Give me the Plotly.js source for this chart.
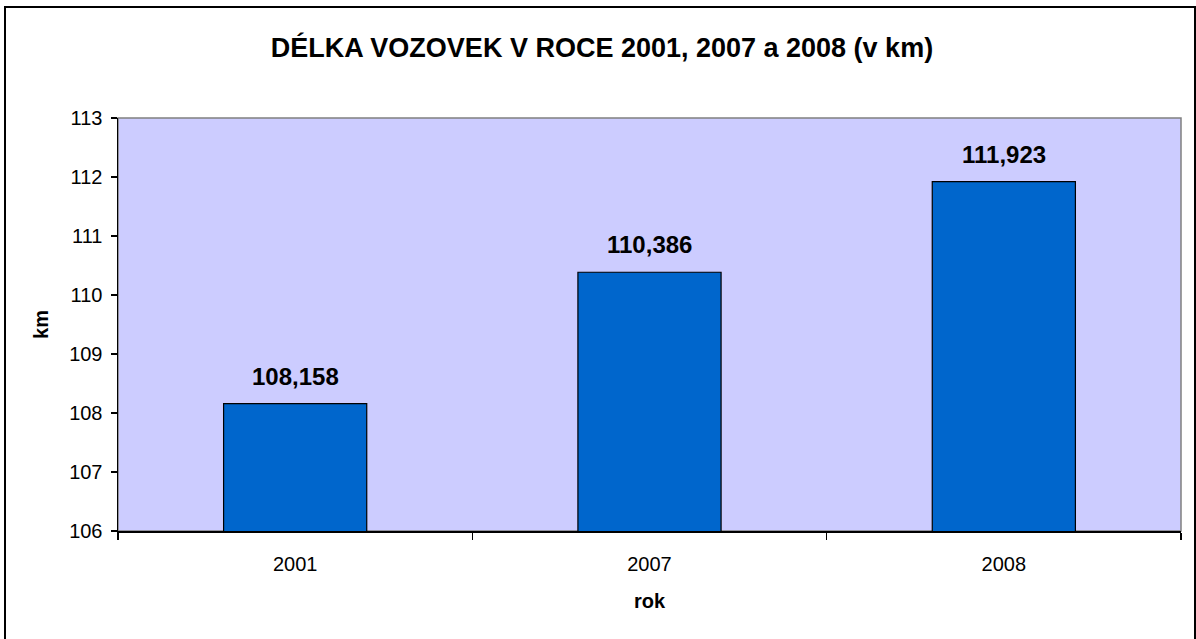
<!DOCTYPE html>
<html>
<head>
<meta charset="utf-8">
<script src="https://cdn.plot.ly/plotly-3.0.1.min.js"></script>
<style>html,body{margin:0;padding:0;background:#fff;}#chart{width:1196px;height:639px;}</style>
</head>
<body>
<div id="chart"></div>
<script>
const years = ['2001', '2007', '2008'];
const lengthKm = [108.158, 110.386, 111.923];
const yTicks = [106, 107, 108, 109, 110, 111, 112, 113];

const FONT = '"Liberation Sans", Arial, sans-serif';
const L = 118, R = 15, T = 118, B = 108, W = 1196, H = 639;
const pw = W - L - R, ph = H - T - B;
function px2x(px) { return (px - L) / pw; }
function px2y(py) { return (H - B - py) / ph; }

const trace = {
  type: 'bar',
  x: years,
  y: lengthKm,
  marker: { color: '#0066CC', line: { color: '#000000', width: 1.2 } },
  hoverinfo: 'x+y'
};

const annotations = years.map((yr, i) => ({
  x: i, y: lengthKm[i], xref: 'x', yref: 'y',
  text: '<b>' + lengthKm[i].toFixed(3).replace('.', ',') + '</b>',
  showarrow: false, yanchor: 'bottom', yshift: 12,
  font: { family: FONT, size: 24, color: '#000000' }
}));

const layout = {
  width: W, height: H,
  margin: { l: L, r: R, t: T, b: B, pad: 0 },
  paper_bgcolor: '#ffffff',
  plot_bgcolor: '#CCCCFF',
  showlegend: false,
  bargap: 0.596,
  title: {
    text: '<b>DÉLKA VOZOVEK V ROCE 2001, 2007 a 2008 (v km)</b>',
    font: { family: FONT, size: 27, color: '#000000' },
    x: 602 / W, xanchor: 'center', xref: 'container',
    y: 1 - 48 / H, yanchor: 'middle', yref: 'container'
  },
  xaxis: {
    type: 'category',
    categoryorder: 'array', categoryarray: years,
    tickson: 'boundaries',
    ticks: 'outside', ticklen: 7, tickwidth: 1.2, tickcolor: '#000000',
    showline: true, linecolor: '#000000', linewidth: 1.5,
    showgrid: false, zeroline: false,
    tickfont: { family: FONT, size: 20, color: '#000000' },
    tickangle: 0,
    ticklabelstandoff: 14,
    title: { text: '<b>rok</b>', font: { family: FONT, size: 20, color: '#000000' }, standoff: 20 }
  },
  yaxis: {
    range: [106, 113],
    tickvals: yTicks,
    ticktext: yTicks.map(String),
    ticks: 'outside', ticklen: 6, tickwidth: 1.2, tickcolor: '#000000',
    showline: true, linecolor: '#000000', linewidth: 1.5,
    showgrid: false, zeroline: false,
    tickfont: { family: FONT, size: 20, color: '#000000' },
    ticklabelstandoff: 4,
    title: { text: '<b>km</b>', font: { family: FONT, size: 20, color: '#000000' }, standoff: 15 }
  },
  shapes: [
    { type: 'rect', xref: 'paper', yref: 'paper', x0: 0, x1: 1, y0: 0, y1: 1,
      line: { color: '#808080', width: 1.5 }, layer: 'below' },
    { type: 'rect', xref: 'paper', yref: 'paper',
      x0: px2x(5), x1: px2x(1195), y0: px2y(650), y1: px2y(7),
      line: { color: '#000000', width: 2 }, layer: 'above' }
  ],
  annotations: annotations
};

Plotly.newPlot('chart', [trace], layout, { displayModeBar: false, staticPlot: true });
</script>
</body>
</html>
